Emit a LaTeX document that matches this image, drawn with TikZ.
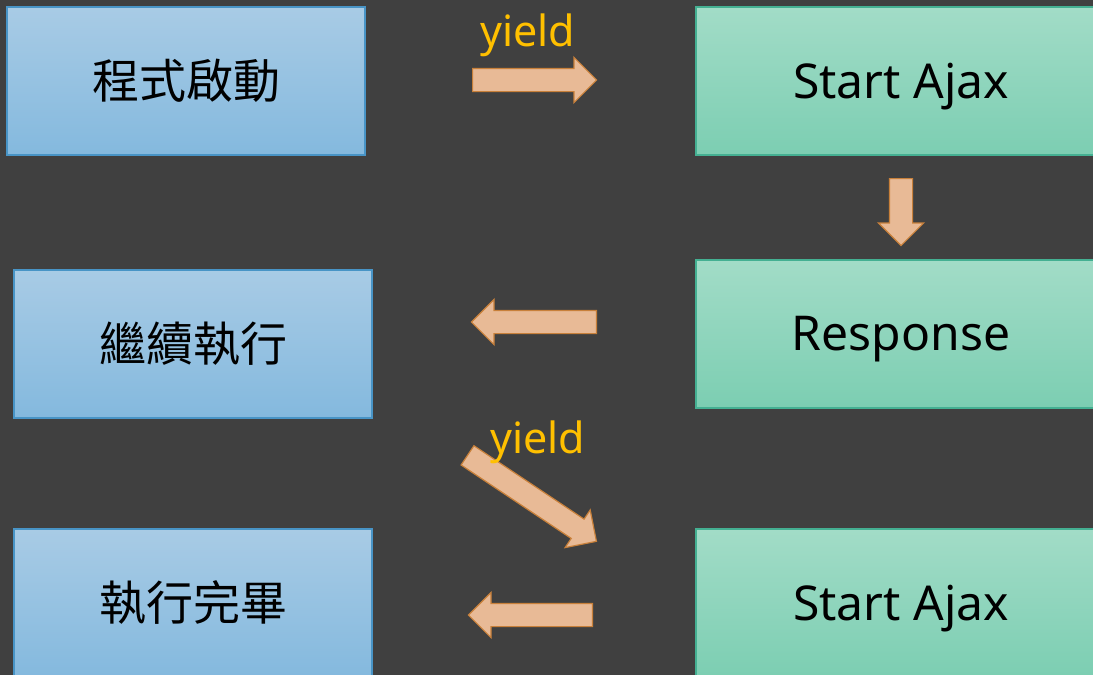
\documentclass[tikz,border=0pt]{standalone}
\usepackage{fontspec}
\setmainfont{Noto Sans}
\newfontfamily\cjk{Noto Sans CJK TC}
\usetikzlibrary{shapes.arrows}

\definecolor{bg}{RGB}{64,64,64}
\definecolor{jstop}{RGB}{168,203,229}
\definecolor{jsbot}{RGB}{132,185,222}
\definecolor{jsline}{RGB}{72,148,198}
\definecolor{axtop}{RGB}{162,220,199}
\definecolor{axbot}{RGB}{124,206,178}
\definecolor{axline}{RGB}{68,176,146}
\definecolor{flowfill}{RGB}{232,186,150}
\definecolor{flowline}{RGB}{200,128,58}
\definecolor{gold}{RGB}{255,192,0}

\begin{document}
\begin{tikzpicture}[x=0.5pt,y=-0.5pt,
  box/.style={draw,line width=1pt,minimum height=74pt,inner sep=0pt},
  jsbox/.style={box,draw=jsline,top color=jstop,bottom color=jsbot,minimum width=179pt,font=\cjk\fontsize{23.5}{28}\selectfont},
  ajaxbox/.style={box,draw=axline,top color=axtop,bottom color=axbot,minimum width=205pt,
    text height=17pt,text depth=0pt,font=\fontsize{24}{30}\selectfont},
  flow/.style={single arrow,draw=flowline,fill=flowfill,line width=0.6pt,inner sep=5.5pt,anchor=tail,
    single arrow head extend=5.5pt,single arrow tip angle=90},
  lbl/.style={text=gold,inner sep=0pt,font=\fontsize{21.5}{26}\selectfont}]
\fill[bg] (0,0) rectangle (1093,675);
\useasboundingbox (0,0) rectangle (1093,675);

% main program (left column)
\node[jsbox] (start) at (186,81) {程式啟動};
\node[jsbox] (resume) at (193,343.5) {繼續執行};
\node[jsbox] (finish) at (193,603) {執行完畢};

% ajax calls (right column)
\node[ajaxbox] (ajaxA) at (901,81) {Start Ajax};
\node[ajaxbox] (resp) at (901,333.5) {Response};
\node[ajaxbox] (ajaxB) at (901,603) {Start Ajax};

% block arrows between the columns (placed by their tails)
\node[flow,minimum height=62pt] (go1) at (472,80) {};
\node[flow,minimum height=33.5pt,rotate=-90] (wait) at (901,178) {};
\node[flow,minimum height=62.5pt,rotate=180] (back1) at (597,322) {};
\node[flow,minimum height=77.5pt,rotate=-33.7] (go2) at (467,455) {};
\node[flow,minimum height=62pt,rotate=180] (back2) at (593,615) {};

\node[lbl,anchor=base] (yield1) at (528,46) {yield};
\node[lbl,anchor=base] (yield2) at (538,453) {yield};
\end{tikzpicture}
\end{document}
